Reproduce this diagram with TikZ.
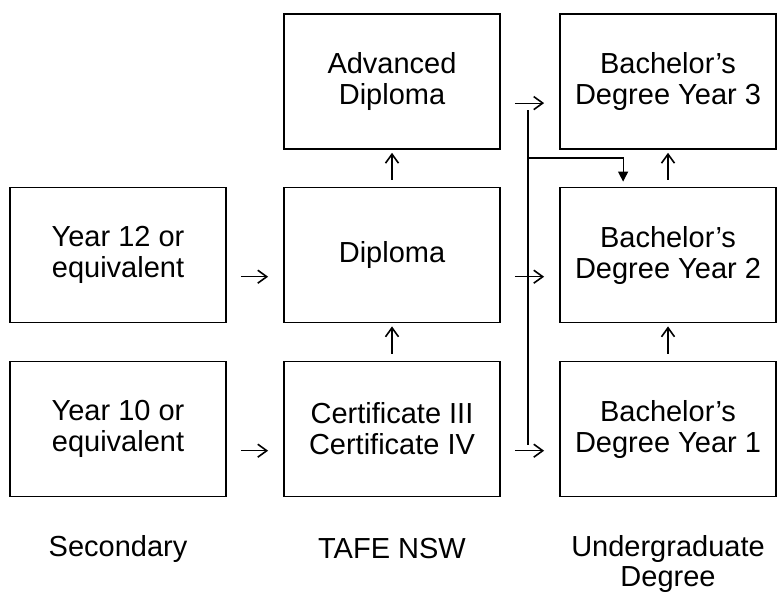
\documentclass[tikz,border=0pt]{standalone}
\usepackage{fontspec}
\setmainfont{Liberation Sans}
\usetikzlibrary{arrows.meta}

\tikzset{
    level/.style={draw, line width=1.8pt, minimum width=216pt, minimum height=135pt,
        inner sep=0pt, align=center, font=\fontsize{29}{31}\selectfont},
    caption/.style={align=center, font=\fontsize{29}{30}\selectfont},
    pathway/.style={line width=1.2pt, -{Straight Barb[length=9pt,width=13pt,line width=1.6pt]}},
    across/.style={pathway, shorten <=14pt, shorten >=15pt},
    upward/.style={pathway, shorten <=7pt, shorten >=3pt},
}

\begin{document}
\begin{tikzpicture}[x=1pt,y=-1pt]
            \useasboundingbox (0,0) rectangle (781,595);

            \node[level] (yr12) at (118,255) {Year 12 or\\equivalent};
            \node[level] (yr10) at (118,429) {Year 10 or\\equivalent};

            \node[level] (adv) at (392,81.4) {Advanced\\Diploma};
            \node[level] (dip) at (392,255) {Diploma};
            \node[level] (cert) at (392,429) {Certificate III\\Certificate IV};

            \node[level] (bach3) at (668,81.4) {Bachelor’s\\Degree Year 3};
            \node[level] (bach2) at (668,255) {Bachelor’s\\Degree Year 2};
            \node[level] (bach1) at (668,429) {Bachelor’s\\Degree Year 1};

            \node[caption] (sec) at (118,549) {Secondary};
            \node[caption] (tafe) at (392,549) {TAFE NSW};
            \node[caption] (ugrad) at (668,564) {Undergraduate\\Degree};

            % across the rows
            \draw[across] ([yshift=-21.7pt]yr12.east) -- ([yshift=-21.7pt]dip.west);
            \draw[across] ([yshift=-21.7pt]yr10.east) -- ([yshift=-21.7pt]cert.west);
            \draw[across] ([yshift=-21.7pt]adv.east) -- ([yshift=-21.7pt]bach3.west);
            \draw[across] ([yshift=-21.7pt]dip.east) -- ([yshift=-21.7pt]bach2.west);
            \draw[across] ([yshift=-21.7pt]cert.east) -- ([yshift=-21.7pt]bach1.west);

            % up the columns
            \draw[upward] (cert.north) -- (dip.south);
            \draw[upward] (dip.north) -- (adv.south);
            \draw[upward] (bach1.north) -- (bach2.south);
            \draw[upward] (bach2.north) -- (bach3.south);

            % credit line
            \coordinate (linktop) at (527.7,110);
            \coordinate (linkbot) at (527.7,445);
            \coordinate (fork) at (527.7,158);
            \coordinate (drop) at ([xshift=64pt,yshift=5pt]bach2.north west);
            \draw[line width=2pt] (linktop) -- (linkbot);
            \draw[line width=1.1pt,-{Triangle[length=10pt,width=10pt]}] (fork) -| (drop);
        \end{tikzpicture}
\end{document}
